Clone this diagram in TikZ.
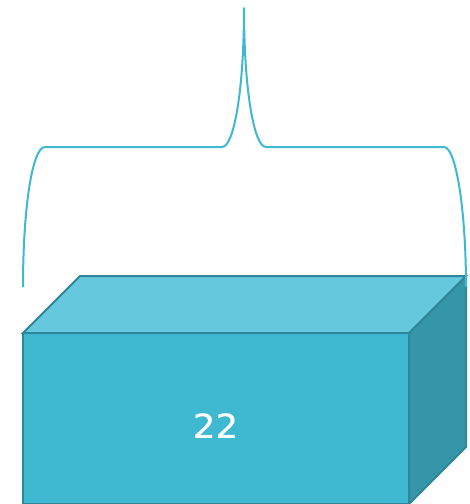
\documentclass[tikz,border=0pt]{standalone}
\usepackage{fontspec}
\setmainfont{DejaVu Sans}
\definecolor{frontc}{HTML}{3FB8D2}
\definecolor{topc}{HTML}{66C8DC}
\definecolor{sidec}{HTML}{3596A9}
\definecolor{edgec}{HTML}{2F8699}
\definecolor{bracec}{HTML}{3FB8D2}
\tikzset{
  face/.style={draw=edgec,line width=2pt,line join=miter},
  bracecurve/.style={draw=bracec,line width=2pt,line cap=butt,line join=round},
  boxlabel/.style={text=white,font=\fontsize{33}{33}\selectfont,inner sep=0pt,anchor=center}
}
\begin{document}
\begin{tikzpicture}[x=1pt,y=-1pt]
\useasboundingbox (0,0) rectangle (470,504);
\clip (0,0) rectangle (470,504);
\fill[white] (0,0) rectangle (470,504);
\coordinate (fa) at (23,333);
\coordinate (fb) at (409,333);
\coordinate (fc) at (409,504);
\coordinate (fd) at (23,504);
\coordinate (ta) at (80,276);
\coordinate (tb) at (466,276);
\coordinate (sc) at (466,447);
\path[face,fill=sidec] (fb) -- (tb) -- (sc) -- (fc) -- cycle;
\path[face,fill=topc] (fa) -- (ta) -- (tb) -- (fb) -- cycle;
\path[face,fill=frontc] (fa) -- (fb) -- (fc) -- (fd) -- cycle;
\path[bracecurve] (23,287) .. controls (23,210) and (32,147) .. (45,147)
  -- (222,147) .. controls (234,147) and (244,90) .. (244,8)
  .. controls (244,90) and (254,147) .. (266,147)
  -- (444,147) .. controls (456,147) and (466,210) .. (466,287);
\node[boxlabel,xscale=1.08] (val) at (215.5,425.5) {\addfontfeature{FakeBold=0.4}22};
\end{tikzpicture}
\end{document}
